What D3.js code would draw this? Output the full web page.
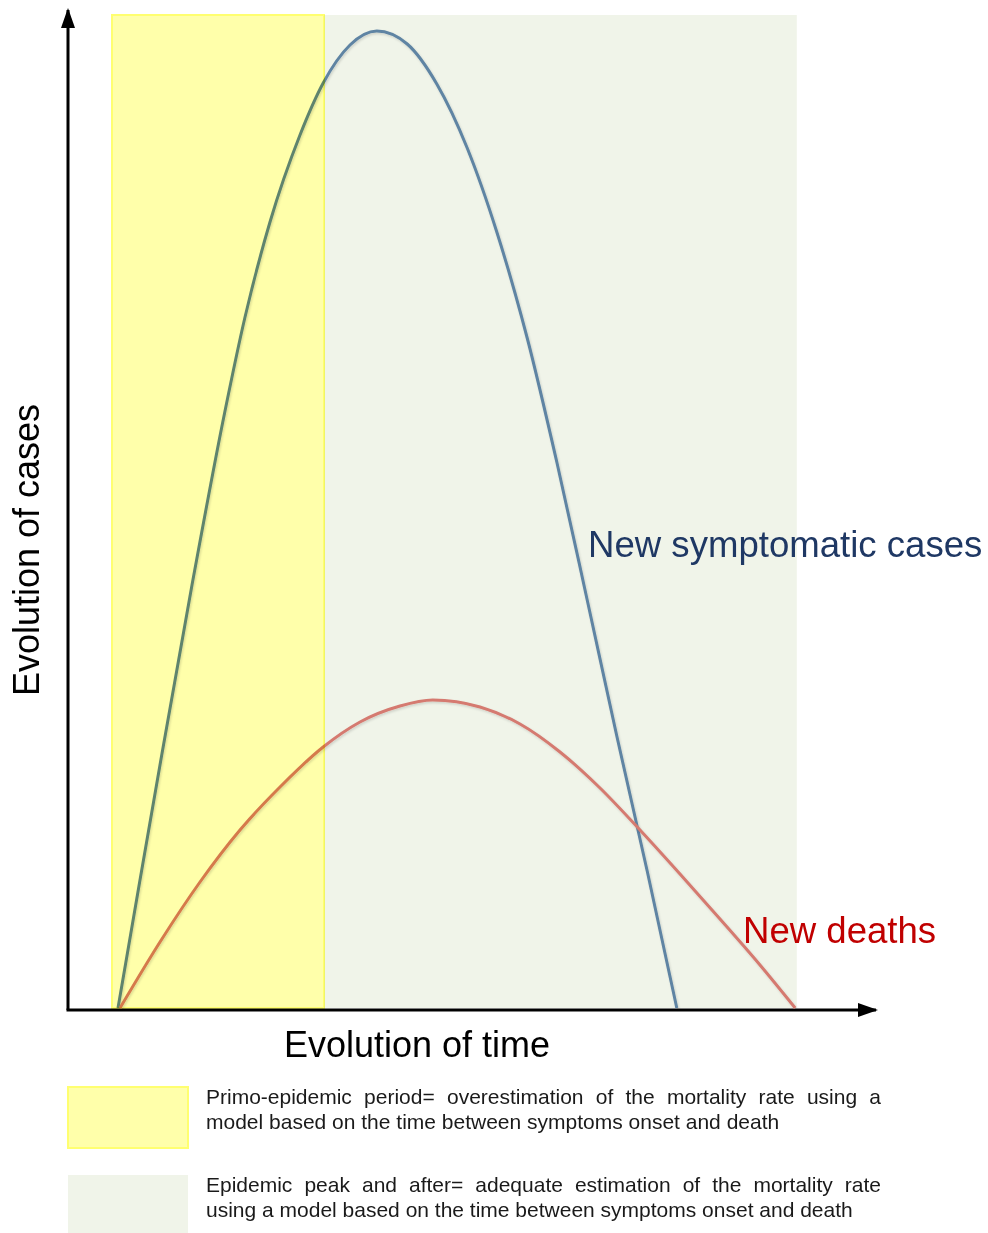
<!DOCTYPE html>
<meta charset="utf-8">
<head>
  <title>Evolution of cases</title>
  <script src="https://cdn.jsdelivr.net/npm/d3@7"></script>
  <style>
    body { margin: 0; background: #fff; }
    text { font-family: "Liberation Sans", Arial, sans-serif; }
    .axis-title { font-size: 36px; fill: #000; }
    .curve-label { font-size: 36.6px; }
    .legend-text { font-size: 21px; fill: #1a1a1a; }
  </style>
</head>
<body>
<svg id="chart"></svg>
<script>
// time units 0..100 along the x axis, case units 0..100 along the y axis
var casesTime   = [6.25, 9, 11.5, 15.5, 19.6, 22.1, 25.25, 29, 31.9, 35.25, 38.6, 42.4, 46.1, 49.9, 53.6, 57.4, 61.1, 64.9, 68.6, 72.4, 76.1];
var casesValue  = [0, 12.8, 24.3, 42.3, 59.6, 69, 78.6, 87.3, 92.5, 96.3, 97.7, 96.4, 92.4, 86, 77.6, 67, 54.6, 40.8, 27.2, 13.7, 0];
var deathsTime  = [6.5, 11.5, 16.5, 21.5, 26.5, 31.9, 36.5, 41.5, 45.6, 51.5, 56.5, 61.5, 66.5, 71.5, 76.5, 81.5, 86.5, 90.9];
var deathsValue = [0, 6.6, 12.6, 17.8, 22.1, 26.1, 28.6, 30.2, 30.8, 30.1, 28.4, 25.6, 22.0, 17.8, 13.4, 8.9, 4.3, 0];

var periodNames = ["primo", "peak"];
var periodStart = [5.5, 32];
var periodEnd   = [32, 91.1];
var periodTop   = 99.3;

var legendLines = [
  ["Primo-epidemic period= overestimation of the mortality rate using a",
   "model based on the time between symptoms onset and death"],
  ["Epidemic peak and after= adequate estimation of the mortality rate",
   "using a model based on the time between symptoms onset and death"]
];

var width = 988, height = 1233;
var svg = d3.select("#chart").attr("width", width).attr("height", height);

var x = d3.scaleLinear().domain([0, 100]).range([68, 868]);
var y = d3.scaleLinear().domain([0, 100]).range([1008, 8]);

var periodColor = d3.scaleOrdinal().domain(periodNames).range(["#ffffaa", "#f0f4e9"]);

var defs = svg.append("defs");
defs.append("marker")
    .attr("id", "arrow")
    .attr("viewBox", "0 0 20 14")
    .attr("refX", 18).attr("refY", 7)
    .attr("markerWidth", 20).attr("markerHeight", 14)
    .attr("markerUnits", "userSpaceOnUse")
    .attr("orient", "auto")
  .append("path")
    .attr("d", "M0,0L20,7L0,14z")
    .attr("fill", "#000");

defs.append("filter")
    .attr("id", "shadow")
    .attr("x", "-5%").attr("y", "-5%").attr("width", "110%").attr("height", "110%")
  .append("feDropShadow")
    .attr("dx", 1).attr("dy", 1.5).attr("stdDeviation", 1)
    .attr("flood-color", "#000").attr("flood-opacity", 0.15);

// grey band (behind the curves)
svg.append("rect")
    .attr("x", x(periodStart[1]))
    .attr("y", y(periodTop))
    .attr("width", x(periodEnd[1]) - x(periodStart[1]))
    .attr("height", y(0) - y(periodTop))
    .attr("fill", periodColor("peak"));

// axes
svg.append("line")
    .attr("x1", x(0)).attr("y1", y(0) + 2)
    .attr("x2", x(0)).attr("y2", y(99.8))
    .attr("stroke", "#000").attr("stroke-width", 3)
    .attr("marker-end", "url(#arrow)");
svg.append("line")
    .attr("x1", x(0) - 1.5).attr("y1", y(0) + 2)
    .attr("x2", x(101)).attr("y2", y(0) + 2)
    .attr("stroke", "#000").attr("stroke-width", 3)
    .attr("marker-end", "url(#arrow)");

var line = d3.line()
    .x(function(d) { return x(d[0]); })
    .y(function(d) { return y(d[1]); })
    .curve(d3.curveMonotoneX);

svg.append("path")
    .datum(d3.zip(casesTime, casesValue))
    .attr("d", line)
    .attr("fill", "none")
    .attr("stroke", "#5f84a3")
    .attr("stroke-width", 3)
    .attr("filter", "url(#shadow)");

svg.append("path")
    .datum(d3.zip(deathsTime, deathsValue))
    .attr("d", line)
    .attr("fill", "none")
    .attr("stroke", "#d57a70")
    .attr("stroke-width", 3)
    .attr("filter", "url(#shadow)");

// yellow band multiplies over the curves
svg.append("rect")
    .attr("x", x(periodStart[0]))
    .attr("y", y(periodTop))
    .attr("width", x(periodEnd[0]) - x(periodStart[0]))
    .attr("height", y(0) - y(periodTop))
    .attr("fill", periodColor("primo"))
    .attr("stroke", "#ffff70")
    .attr("stroke-width", 2)
    .style("mix-blend-mode", "multiply");

// axis titles
svg.append("text")
    .attr("class", "axis-title")
    .attr("transform", "translate(39,550) rotate(-90)")
    .attr("text-anchor", "middle")
    .text("Evolution of cases");

svg.append("text")
    .attr("class", "axis-title")
    .attr("x", 417).attr("y", 1057)
    .attr("text-anchor", "middle")
    .text("Evolution of time");

// curve labels
svg.append("text")
    .attr("class", "curve-label")
    .attr("x", 588).attr("y", 557)
    .style("fill", "#1f3864")
    .text("New symptomatic cases");

svg.append("text")
    .attr("class", "curve-label")
    .attr("x", 743).attr("y", 943)
    .style("fill", "#c00000")
    .text("New deaths");

// legend
var legendTop = [1087, 1175];
var legend = svg.selectAll(".legend")
    .data(periodNames)
    .enter().append("g")
    .attr("class", "legend")
    .attr("transform", function(d, i) { return "translate(0," + legendTop[i] + ")"; });

legend.append("rect")
    .attr("x", 68).attr("y", 0)
    .attr("width", 120).attr("height", 61)
    .attr("fill", function(d) { return periodColor(d); })
    .attr("stroke", function(d) { return d == "primo" ? "#ffff70" : "none"; })
    .attr("stroke-width", 2);

var measure = svg.append("text").attr("class", "legend-text").attr("visibility", "hidden");
function wordWidth(w) {
  measure.text(w);
  return measure.node().getComputedTextLength();
}

function writeLine(g, str, x0, x1, yy, justify) {
  var t = g.append("text").attr("class", "legend-text").attr("y", yy);
  if (!justify) {
    t.attr("x", x0).text(str);
    return;
  }
  var words = str.split(" ");
  var widths = words.map(wordWidth);
  var gap = (x1 - x0 - d3.sum(widths)) / (words.length - 1);
  var pos = x0;
  words.forEach(function(w, i) {
    t.append("tspan").attr("x", pos).text(w);
    pos += widths[i] + gap;
  });
}

legend.each(function(d, i) {
  var g = d3.select(this);
  writeLine(g, legendLines[i][0], 206, 881, 17, true);
  writeLine(g, legendLines[i][1], 206, 881, 42, false);
});
measure.remove();
</script>
</body>
